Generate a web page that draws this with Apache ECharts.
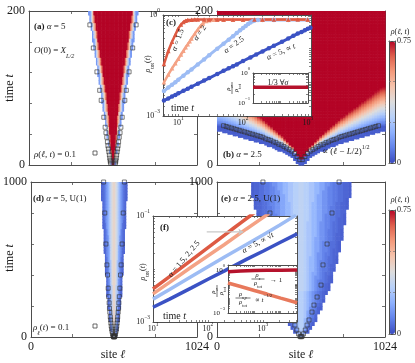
<!DOCTYPE html>
<html>
<head>
<meta charset="utf-8">
<script src="https://cdn.jsdelivr.net/npm/echarts@6.0.0/dist/echarts.min.js"></script>
<style>
  html, body { margin: 0; padding: 0; background: #fff; }
  #chart { width: 415px; height: 363px; }
</style>
</head>
<body>
<div id="chart"></div>
<script>
// ---------- panel (a): alpha = 5, rows of 5 time units, half width of the coloured cone (sites)
const aRowT = [0,5,10,15,20,25,30,35,40,45,50,55,60,65,70,75,80,85,90,95,100,105,110,115,120,125,130,135,140,145,150,155,160,165,170,175,180,185,190,195];
const aEdge = [12,15,19,22,26,29,33,36,40,43,47,50,54,57,61,64,68,71,75,78,82,85,89,92,96,99,103,106,110,113,117,120,124,127,131,134,138,141,145,148];
const aBand = [0.62, 0.46, 0.3, 0.14];          // colour steps across the cone edge, inside -> outside
const aSqT = [2,4,6,9,13,17,21,25,30,36,42,49,62,84,97,121,152,182];
const aSqW = [14,16,17,20,22,25,28,31,34,38,43,48,56,72,81,98,120,141];

// ---------- panel (b): alpha = 2.5, columns of 16 sites from the centre outward
const bColD = [8,24,40,56,72,88,104,120,136,152,168,184,200,216,232,248,264,280,296,312,328,344,360,376,392,408,424,440,456,472,488,504];
const bFront = [7,11,15,18,20,22,24,26,27,29,30,32,33,34,36,37,38,39,40,41,42,43,44,45,46,47,48,49,50,51,52,52];
const bSat = [8,13,19,24,27,31,34,38,41,44,47,50,53,56,59,62,64,67,70,72,75,77,80,83,85,88,90,93,96,98,101,102];

// ---------- panel (d): alpha = 5, U(1), rows of 20 time units
const dRowT = [0,20,40,60,80,100,120,140,160,180,200,220,240,260,280,300,320,340,360,380,400,420,440,460,480,500,520,540,560,580,600,620,640,660,680,700,720,740,760,780,800,820,840,860,880,900,920,940,960,980];
const dEdge = [12,17,21,24,27,29,31,33,35,37,39,40,42,44,45,46,48,49,50,51,53,54,55,56,57,58,59,60,61,62,63,64,65,66,67,68,69,70,71,72,72,73,74,75,76,76,77,78,79,80];
const dProfile = [0.43,0.41,0.37,0.31,0.25,0.19,0.14,0.1,0.07,0.05,0.04];
const dSqT = [1,2,4,8,20,35,52,70,90,110,130,160,185,220,260,315,400,465,600,800,1000];
const dSqW = [2,3,4,6,9,12,15,17,19,21,23,26,28,30,33,36,40,44,50,57,64];

// ---------- panel (e): alpha = 2.5, U(1), rows of 25 time units
const eRowT = [0,25,50,75,100,125,150,175,200,225,250,275,300,325,350,375,400,425,450,475,500,525,550,575,600,625,650,675,700,725,750,775,800,825,850,875,900,925,950,975];
const eEdge = [22,42,58,74,88,100,110,122,132,142,150,160,168,176,184,192,198,206,212,218,222,228,234,240,244,250,254,258,262,266,270,274,278,282,288,292,296,300,304,306];
const eProfile = [0.3,0.28,0.25,0.21,0.17,0.13,0.1,0.08,0.06,0.045,0.035];
const eSqT = [2,5,20,45,77,110,161,206,258,335,465,600,800,1000];
const eSqW = [3,7,15,26,37,49,67,79,98,122,134,159,189,232];

// ---------- inset (c): rho_tot(t)
const cT15 = [6,7,8,9,10,11,12,13,14,16,18,20,25,30,40,50,70,100,150,200,300,500,700,1000];
const cR15 = [0.035,0.085,0.16,0.26,0.4,0.52,0.62,0.68,0.71,0.72,0.73,0.73,0.73,0.73,0.73,0.73,0.73,0.73,0.73,0.73,0.73,0.73,0.73,0.73];
const cT2 = [6,7,8,9,10,11,12,13,14,15,16,18,20,22,24,27,30,35,40,50,70,100,200,500,1000];
const cR2 = [0.010,0.017,0.026,0.037,0.05,0.067,0.087,0.11,0.135,0.165,0.2,0.28,0.37,0.47,0.56,0.66,0.7,0.72,0.72,0.72,0.72,0.72,0.72,0.72,0.72];
const cT25 = [6,7,8,9,10,12,14,16,20,25,30,40,50,60,70,80,90,100,110,120,130,140,150,170,200,300,500,1000];
const cR25 = [0.0055,0.007,0.0085,0.0101,0.012,0.0158,0.02,0.024,0.034,0.048,0.064,0.1,0.14,0.185,0.235,0.29,0.35,0.41,0.47,0.54,0.6,0.65,0.69,0.71,0.71,0.71,0.71,0.71];
const cT5 = [6,7,8,9,10,12,14,16,20,25,30,40,50,60,70,80,100,130,160,200,250,300,400,500,600,700,800,900,1000,1100];
const cR5 = [0.0029,0.0033,0.0038,0.0042,0.0047,0.0056,0.0065,0.0074,0.0091,0.0113,0.0134,0.0177,0.022,0.026,0.030,0.034,0.043,0.055,0.067,0.083,0.103,0.122,0.16,0.2,0.24,0.28,0.31,0.35,0.39,0.42];
const csT = [10,30,100,300,1000];
const csR = [0.333,0.333,0.333,0.333,0.333];

// ---------- inset (f): rho_tot(t), U(1)
const fT15 = [10,20,50,100,200,300,400,580,700];
const fR15 = [0.0042,0.0072,0.0147,0.0253,0.0435,0.06,0.075,0.1,0.116];
const fT2 = [10,20,50,100,200,500,1000,1300];
const fR2 = [0.0034,0.0056,0.0109,0.0178,0.029,0.057,0.093,0.112];
const fT25 = [10,20,50,100,200,500,1000,2000,4000];
const fR25 = [0.0027,0.0041,0.0072,0.011,0.0168,0.029,0.044,0.067,0.104];
const fT5 = [10,20,50,100,200,500,1000,2000,4200];
const fR5 = [0.0019,0.0027,0.0044,0.0064,0.0092,0.0152,0.0216,0.0312,0.046];
const fsT = [10,30,100,300,1000,4200];
const fsZ = [0.75,0.86,0.93,0.96,0.98,0.99];
const fsXY = [0.125,0.071,0.037,0.021,0.011,0.0052];
const arrowT = [95, 440];
const arrowR = [0.05, 0.05];

// ---------- styles
const serif = "'Liberation Serif','DejaVu Serif',serif";
const ink = '#1a1a1a';
const frameCol = '#4d4d4d';
const cmap = ['#3b4cc0','#6282ea','#8db0fe','#b8d0f9','#dddddd','#f5c4ad','#f49a7b','#de604d','#b40426'];
const colA15 = '#dd5a43', colA2 = '#f4a285', colA25 = '#9dbcf4', colA5 = '#3b52c4', colDark = '#b5122c';

function R(size) {
  const lh = Math.round(size * 1.8), sl = Math.round(size * 0.75), ss = size * 0.68;
  const base = { fontFamily: serif, color: ink };
  return {
    t: { ...base, fontSize: size, lineHeight: lh },
    i: { ...base, fontSize: size, lineHeight: lh, fontStyle: 'italic' },
    b: { ...base, fontSize: size, lineHeight: lh, fontWeight: 'bold' },
    u: { ...base, fontSize: ss, lineHeight: sl, verticalAlign: 'top' },
    d: { ...base, fontSize: ss, lineHeight: sl, verticalAlign: 'bottom' },
    di: { ...base, fontSize: ss, lineHeight: sl, verticalAlign: 'bottom', fontStyle: 'italic' }
  };
}
function ts(text, size, align) {
  return { text, rich: R(size), font: size + 'px ' + serif, fill: ink,
    align, verticalAlign: 'middle', textAlign: align, textVerticalAlign: 'middle' };
}
function txt(x, y, text, size, align, rot) {
  return { type: 'text', x, y, z: 40, rotation: (rot || 0) * Math.PI / 180, style: ts(text, size, align || 'left') };
}
function frac(x, y, num, den, size, w, rot) {
  return { type: 'group', x, y, rotation: (rot || 0) * Math.PI / 180, children: [
    { type: 'text', x: 0, y: -size * 0.6, z: 40, style: ts(num, size, 'center') },
    { type: 'line', z: 40, shape: { x1: -w / 2, y1: 0, x2: w / 2, y2: 0 }, style: { stroke: ink, lineWidth: 0.6 } },
    { type: 'text', x: 0, y: size * 0.65, z: 40, style: ts(den, size, 'center') }
  ] };
}

// ---------- heatmap tables built from the arrays above
const aCells = [];
aRowT.forEach((t, i) => {
  const hw = aEdge[i], bw = Math.min(32, hw * 0.5);
  for (let x = 4; x < 1024; x += 8) {
    const d = Math.abs(x - 512);
    if (d > hw) continue;
    let v = 0.75;
    if (d > hw - bw) v = aBand[Math.min(3, Math.floor((d - (hw - bw)) / bw * 4))];
    aCells.push([x, t, v]);
  }
});
const bCells = [];
bColD.forEach((dd, k) => {
  [512 - dd, 512 + dd].forEach(x => {
    for (let t = 0; t < 200; t += 2) {
      const tc = t + 1, fr = bFront[k], sa = bSat[k];
      if (tc < fr - 8) continue;
      let v;
      if (tc < fr) v = 0.03;
      else if (tc >= sa) v = 0.75;
      else v = 0.06 + 0.69 * (tc - fr) / (sa - fr);
      bCells.push([x, t, v]);
    }
  });
});
function profileCells(rows, edge, prof, step) {
  const out = [];
  rows.forEach((t, i) => {
    const hw = edge[i];
    for (let x = step / 2; x < 1024; x += step) {
      const d = Math.abs(x - 512);
      if (d > hw) continue;
      out.push([x, t, prof[Math.min(10, Math.round(d / hw * 10))]]);
    }
  });
  return out;
}
const dCells = profileCells(dRowT, dEdge, dProfile, 8);
const eCells = profileCells(eRowT, eEdge, eProfile, 16);

function mirror(T, W) {
  const out = [];
  T.forEach((t, i) => { out.push([512 - W[i], t]); out.push([512 + W[i], t]); });
  return out;
}
const aSq = mirror(aSqT, aSqW);
const bSq = [];
bColD.forEach((dd, k) => { if (dd <= 472) { bSq.push([512 - dd, bFront[k]]); bSq.push([512 + dd, bFront[k]]); } });
const dSq = mirror(dSqT, dSqW);
const eSq = mirror(eSqT, eSqW);

// ---------- grids
const grids = [
  { left: 29, top: 11, width: 168, height: 154 },   // 0 (a)
  { left: 217, top: 11, width: 168, height: 154 },  // 1 (b)
  { left: 29, top: 182, width: 168, height: 155 },  // 2 (d)
  { left: 217, top: 182, width: 168, height: 155 }, // 3 (e)
  { left: 389, top: 41, width: 6, height: 122 },    // 4 colourbar top
  { left: 389, top: 210, width: 6, height: 124 },   // 5 colourbar bottom
  { left: 163, top: 15, width: 148, height: 101, show: true, backgroundColor: '#fff', borderWidth: 0, z: 10 },  // 6 (c)
  { left: 253, top: 73, width: 55, height: 30, show: true, backgroundColor: '#fff', borderWidth: 0, z: 20 },    // 7 (c) sub
  { left: 153, top: 216, width: 144, height: 106, show: true, backgroundColor: '#fff', borderWidth: 0, z: 10 }, // 8 (f)
  { left: 228, top: 265, width: 69, height: 48, show: true, backgroundColor: '#fff', borderWidth: 0, z: 20 }    // 9 (f) sub
];

const xAxes = [], yAxes = [];
const line = { show: true, onZero: false, lineStyle: { color: frameCol, width: 1 } };
const noSplit = { show: false };

function mainFrame(g, yMax, yStep, xLabels) {
  const tick = { show: true, inside: true, length: 3, lineStyle: { color: frameCol, width: 0.8 } };
  const lab = { fontFamily: serif, fontSize: 12, color: ink, margin: 4, formatter: v => String(v) };
  xAxes.push({ type: 'value', gridIndex: g, position: 'bottom', min: 0, max: 1024, interval: 256, axisLine: line, axisTick: tick, splitLine: noSplit,
    axisLabel: xLabels ? { ...lab, customValues: [0, 1024] } : { show: false } });
  xAxes.push({ type: 'value', gridIndex: g, position: 'top', min: 0, max: 1024, interval: 256, axisLine: line, axisTick: tick, splitLine: noSplit, axisLabel: { show: false } });
  yAxes.push({ type: 'value', gridIndex: g, position: 'left', min: 0, max: yMax, interval: yStep, axisLine: line, axisTick: tick, splitLine: noSplit,
    axisLabel: { ...lab, customValues: [0, yMax] } });
  yAxes.push({ type: 'value', gridIndex: g, position: 'right', min: 0, max: yMax, interval: yStep, axisLine: line, axisTick: tick, splitLine: noSplit, axisLabel: { show: false } });
  return [xAxes.length - 2, yAxes.length - 2];
}
function logTicks(lo, hi) {
  const out = [];
  for (let e = Math.floor(lo); e <= Math.ceil(hi); e++)
    for (let k = 1; k < 10; k++) { const v = e + Math.log10(k); if (v >= lo - 1e-9 && v <= hi + 1e-9) out.push(v); }
  return out;
}
const expFmt = v => '{t|10}{u|' + String(Math.round(v)).replace('-', '\u2212') + '}';
function logFrame(g, xr, yr, xLab, yLab, z, size) {
  const tick = (vals) => ({ show: true, inside: true, length: 2, customValues: vals, lineStyle: { color: frameCol, width: 0.7 } });
  const lab = (vals, m) => vals ? { customValues: vals, formatter: expFmt, rich: R(size), margin: m } : { show: false };
  const xt = logTicks(xr[0], xr[1]), yt = logTicks(yr[0], yr[1]);
  xAxes.push({ type: 'value', gridIndex: g, position: 'bottom', min: xr[0], max: xr[1], z, axisLine: line, axisTick: tick(xt), splitLine: noSplit, axisLabel: lab(xLab, 0) });
  xAxes.push({ type: 'value', gridIndex: g, position: 'top', min: xr[0], max: xr[1], z, axisLine: line, axisTick: tick(xt), splitLine: noSplit, axisLabel: { show: false } });
  yAxes.push({ type: 'value', gridIndex: g, position: 'left', min: yr[0], max: yr[1], z, axisLine: line, axisTick: tick(yt), splitLine: noSplit, axisLabel: lab(yLab, 3) });
  yAxes.push({ type: 'value', gridIndex: g, position: 'right', min: yr[0], max: yr[1], z, axisLine: line, axisTick: tick(yt), splitLine: noSplit, axisLabel: { show: false } });
  return [xAxes.length - 2, yAxes.length - 2];
}
function cbarFrame(g) {
  const tick = { show: true, inside: true, length: 2, lineStyle: { color: '#777', width: 0.7 } };
  xAxes.push({ type: 'value', gridIndex: g, position: 'bottom', min: 0, max: 1, z: 5, axisLine: line, axisTick: { show: false }, axisLabel: { show: false }, splitLine: noSplit });
  xAxes.push({ type: 'value', gridIndex: g, position: 'top', min: 0, max: 1, z: 5, axisLine: line, axisTick: { show: false }, axisLabel: { show: false }, splitLine: noSplit });
  yAxes.push({ type: 'value', gridIndex: g, position: 'right', min: 0, max: 0.75, interval: 0.25, z: 5, axisLine: line, axisTick: tick, splitLine: noSplit,
    axisLabel: { customValues: [0, 0.75], fontFamily: serif, fontSize: 8, color: ink, margin: 2 } });
  yAxes.push({ type: 'value', gridIndex: g, position: 'left', min: 0, max: 0.75, interval: 0.25, z: 5, axisLine: line, axisTick: tick, splitLine: noSplit, axisLabel: { show: false } });
}

const [axA, ayA] = mainFrame(0, 200, 40, false);
const [axB, ayB] = mainFrame(1, 200, 40, false);
const [axD, ayD] = mainFrame(2, 1000, 200, true);
const [axE, ayE] = mainFrame(3, 1000, 200, true);
cbarFrame(4);
cbarFrame(5);
const [axC, ayC] = logFrame(6, [Math.log10(5.8), 3.05], [-3, 0], [1, 2, 3], [-3, 0], 11, 8);
const [axCs, ayCs] = logFrame(7, [1, 3], [-1, 0], null, [-1, 0], 21, 7);
const [axF, ayF] = logFrame(8, [1, 3.62], [-3, -1], [1, 2, 3], [-3, -1], 11, 8);
const [axFs, ayFs] = logFrame(9, [1, 3.62], [-3, 0.35], null, [-3, 0], 21, 7);

// ---------- series
function cells(xi, yi, data, dw, dh) {
  return { type: 'custom', xAxisIndex: xi, yAxisIndex: yi, data, encode: { x: 0, y: 1 }, clip: true, z: 2, silent: true,
    renderItem: (p, api) => {
      const a = api.coord([api.value(0) - dw / 2, api.value(1) + dh]);
      const s = api.size([dw, dh]);
      return { type: 'rect', shape: { x: a[0], y: a[1], width: s[0] + 0.6, height: s[1] + 0.6 }, style: { fill: api.visual('color') } };
    } };
}
function squares(xi, yi, data) {
  return { type: 'scatter', xAxisIndex: xi, yAxisIndex: yi, data, symbol: 'rect', symbolSize: 4, z: 3, silent: true, clip: false,
    itemStyle: { color: 'rgba(0,0,0,0)', borderColor: '#333', borderWidth: 0.8 } };
}
function curve(xi, yi, T, V, color, w, sym, z) {
  return { type: 'line', xAxisIndex: xi, yAxisIndex: yi, data: T.map((t, i) => [Math.log10(t), Math.log10(V[i])]),
    showSymbol: !!sym, symbol: sym || 'none', symbolSize: 4.5, lineStyle: { color, width: w }, itemStyle: { color },
    z, silent: true, clip: true };
}
const arrowSeries = {
  type: 'line', xAxisIndex: axF, yAxisIndex: ayF, z: 12, silent: true, clip: true,
  lineStyle: { color: '#c8c8c8', width: 1.2 }, itemStyle: { color: '#c8c8c8' }, showSymbol: true,
  data: [
    { value: [Math.log10(arrowT[0]), Math.log10(arrowR[0])], symbol: 'none' },
    { value: [Math.log10(arrowT[1]), Math.log10(arrowR[1])], symbol: 'arrow', symbolSize: 5, symbolRotate: -90 }
  ]
};

const series = [
  cells(axA, ayA, aCells, 8, 5),
  cells(axB, ayB, bCells, 16, 2),
  cells(axD, ayD, dCells, 8, 20),
  cells(axE, ayE, eCells, 16, 25),
  squares(axA, ayA, aSq),
  squares(axB, ayB, bSq),
  squares(axD, ayD, dSq),
  squares(axE, ayE, eSq),
  curve(axC, ayC, cT5, cR5, colA5, 3, 'circle', 12),
  curve(axC, ayC, cT25, cR25, colA25, 3, 'circle', 12),
  curve(axC, ayC, cT2, cR2, colA2, 2.5, 'triangle', 12),
  curve(axC, ayC, cT15, cR15, colA15, 2.5, 'triangle', 12),
  curve(axCs, ayCs, csT, csR, colDark, 3.5, null, 22),
  curve(axF, ayF, fT5, fR5, colA5, 3.5, null, 12),
  curve(axF, ayF, fT25, fR25, colA25, 3.5, null, 12),
  curve(axF, ayF, fT2, fR2, colA2, 3.5, null, 12),
  curve(axF, ayF, fT15, fR15, colA15, 3.5, null, 12),
  arrowSeries,
  curve(axFs, ayFs, fsT, fsZ, colDark, 3.5, null, 22),
  curve(axFs, ayFs, fsT, fsXY, '#e8795c', 3.5, null, 22)
];

// ---------- text annotations
const gfx = [
  txt(10, 88, '{t|time }{i|t}', 12, 'center', 90),
  txt(10, 258, '{t|time }{i|t}', 12, 'center', 90),
  txt(113, 355, '{t|site }{i|ℓ}', 12, 'center'),
  txt(301, 355, '{t|site }{i|ℓ}', 12, 'center'),
  txt(34, 27, '{b|(a)} {i|α}{t| = 5}', 9),
  txt(34, 51, '{i|O}{t|(0) = }{i|X}{di|L/2}', 9),
  txt(34, 155, '{i|ρ}{t|(}{i|ℓ}{t|, }{i|t}{t|) = 0.1}', 9),
  { type: 'rect', z: 40, shape: { x: 93, y: 151, width: 4, height: 4 }, style: { fill: 'none', stroke: '#444', lineWidth: 0.8 } },
  txt(223, 155, '{b|(b)} {i|α}{t| = 2.5}', 9),
  txt(322, 152, '{t|∝ (}{i|ℓ}{t| − }{i|L}{t|/2)}{u|1/2}', 9),
  txt(33, 199, '{b|(d)} {i|α}{t| = 5, U(1)}', 9),
  txt(33, 328, '{i|ρ}{di|ℓ}{t|(}{i|t}{t|) = 0.1}', 9),
  { type: 'rect', z: 40, shape: { x: 93, y: 324, width: 4, height: 4 }, style: { fill: 'none', stroke: '#444', lineWidth: 0.8 } },
  txt(221, 199, '{b|(e)} {i|α}{t| = 2.5, U(1)}', 9),
  txt(400, 32, '{i|ρ}{t|(}{i|ℓ}{t|, }{i|t}{t|)}', 8, 'center'),
  txt(400, 200, '{i|ρ}{t|(}{i|ℓ}{t|, }{i|t}{t|)}', 8, 'center'),
  // inset (c)
  txt(166, 23, '{b|(c)}', 9),
  txt(148, 64, '{i|ρ}{d|tot}{t|(}{i|t}{t|)}', 8, 'center', 90),
  txt(171, 108, '{t|time }{i|t}', 10),
  txt(178, 40, '{i|α}{t| = 1.5}', 8, 'center', 70),
  txt(200, 33, '{i|α}{t| = 2}', 8, 'center', 55),
  txt(234, 45, '{i|α}{t| = 2.5}', 8, 'center', 36),
  txt(281, 52, '{i|α}{t| = 5, ∝ }{i|t}', 8, 'center', 24),
  frac(232, 88, '{i|ρ}{di|σ}', '{i|ρ}{d|tot}', 6.5, 12, 90),
  txt(278, 83, '{t|1/3 ∀}{i|σ}', 8, 'center'),
  // inset (f)
  txt(160, 228, '{b|(f)}', 9),
  txt(143, 272, '{i|ρ}{d|tot}{t|(}{i|t}{t|)}', 8, 'center', 90),
  txt(163, 316, '{t|time }{i|t}', 10),
  txt(184, 259, '{i|α}{t| = 1.5, 2, 2.5}', 8, 'center', 50),
  txt(258, 243, '{i|α}{t| = 5, ∝ √}{i|t}', 8, 'center', 29),
  frac(217, 291, '{i|ρ}{di|σ}', '{i|ρ}{d|tot}', 6.5, 12, 90),
  frac(258, 279, '{i|ρ}{di|z}', '{i|ρ}{d|tot}', 6.5, 13, 0),
  txt(270, 280, '{t|→ 1}', 7),
  frac(243, 298, '{i|ρ}{di|x,y}', '{i|ρ}{d|tot}', 6.5, 15, 0),
  txt(255, 300, '{t|∝ }{i|t}{u|−1/2}', 7)
];

const chart = echarts.init(document.getElementById('chart'), null, { renderer: 'canvas' });
chart.setOption({
  backgroundColor: '#fff',
  animation: false,
  grid: grids,
  xAxis: xAxes,
  yAxis: yAxes,
  visualMap: [
    { type: 'continuous', min: 0, max: 0.75, dimension: 2, seriesIndex: [0, 1], inRange: { color: cmap }, calculable: false,
      orient: 'vertical', left: 389, top: 41, itemWidth: 6, itemHeight: 122, padding: 0, hoverLink: false },
    { type: 'continuous', min: 0, max: 0.75, dimension: 2, seriesIndex: [2, 3], inRange: { color: cmap }, calculable: false,
      orient: 'vertical', left: 389, top: 210, itemWidth: 6, itemHeight: 124, padding: 0, hoverLink: false }
  ],
  series,
  graphic: gfx
});
</script>
</body>
</html>
